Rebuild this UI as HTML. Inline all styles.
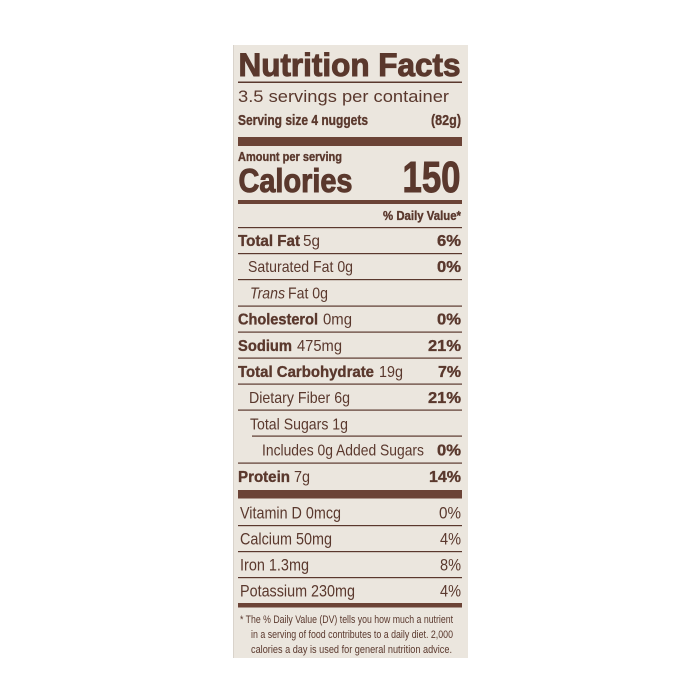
<!DOCTYPE html>
<html><head><meta charset="utf-8"><style>
html,body{margin:0;padding:0;background:#fff;}
svg{display:block;}
text{font-family:"Liberation Sans",sans-serif;fill:#5a382d;}
.b{font-weight:bold;stroke:#5a382d;stroke-width:0.35;}
.h{font-weight:bold;stroke:#5a382d;stroke-width:1;}
</style></head><body>
<svg width="700" height="700" viewBox="0 0 700 700" xmlns="http://www.w3.org/2000/svg">
<rect x="0" y="0" width="700" height="700" fill="#ffffff"/>
<rect x="233" y="45" width="235" height="613" fill="#ebe6de"/>
<line x1="233.5" y1="45" x2="233.5" y2="658" stroke="#d9d3cb" stroke-width="1"/>

<text class="h" x="238.5" y="76" font-size="32" textLength="222" lengthAdjust="spacingAndGlyphs">Nutrition Facts</text>
<rect x="238" y="81.5" width="224" height="1.5" fill="#5a382d"/>
<text x="238" y="102" font-size="17" textLength="211" lengthAdjust="spacingAndGlyphs">3.5 servings per container</text>
<text class="b" x="238" y="125" font-size="15" textLength="130" lengthAdjust="spacingAndGlyphs">Serving size 4 nuggets</text>
<text class="b" x="431" y="125" font-size="15" textLength="30" lengthAdjust="spacingAndGlyphs">(82g)</text>
<rect x="238" y="137" width="224" height="9" fill="#6b4336"/>
<text class="b" x="238" y="161" font-size="12.5" textLength="104" lengthAdjust="spacingAndGlyphs">Amount per serving</text>
<text class="h" x="238.5" y="192" font-size="33" textLength="114" lengthAdjust="spacingAndGlyphs">Calories</text>
<text class="h" x="402.5" y="192" font-size="44" textLength="58" lengthAdjust="spacingAndGlyphs">150</text>
<rect x="238" y="200" width="224" height="4" fill="#6b4336"/>
<text class="b" x="383" y="220" font-size="12.5" textLength="78" lengthAdjust="spacingAndGlyphs">% Daily Value*</text>
<rect x="238" y="227" width="224" height="1.2" fill="#5a382d"/>

<!-- Total Fat -->
<text class="b" x="238" y="246" font-size="16" textLength="62" lengthAdjust="spacingAndGlyphs">Total Fat</text>
<text x="303" y="246" font-size="16" textLength="17" lengthAdjust="spacingAndGlyphs">5g</text>
<text class="b" x="437" y="246" font-size="16" textLength="24" lengthAdjust="spacingAndGlyphs">6%</text>
<rect x="238" y="253" width="224" height="1.2" fill="#5a382d"/>
<!-- Saturated -->
<text x="248" y="272.2" font-size="16" textLength="105" lengthAdjust="spacingAndGlyphs">Saturated Fat 0g</text>
<text class="b" x="437" y="272.2" font-size="16" textLength="24" lengthAdjust="spacingAndGlyphs">0%</text>
<rect x="238" y="279" width="224" height="1.2" fill="#5a382d"/>
<!-- Trans -->
<text x="250" y="298.4" font-size="16" font-style="italic" textLength="35" lengthAdjust="spacingAndGlyphs">Trans</text>
<text x="288" y="298.4" font-size="16" textLength="40" lengthAdjust="spacingAndGlyphs">Fat 0g</text>
<rect x="238" y="305.5" width="224" height="1.2" fill="#5a382d"/>
<!-- Cholesterol -->
<text class="b" x="238" y="324.6" font-size="16" textLength="80" lengthAdjust="spacingAndGlyphs">Cholesterol</text>
<text x="323" y="324.6" font-size="16" textLength="29" lengthAdjust="spacingAndGlyphs">0mg</text>
<text class="b" x="437" y="324.6" font-size="16" textLength="24" lengthAdjust="spacingAndGlyphs">0%</text>
<rect x="238" y="331.5" width="224" height="1.2" fill="#5a382d"/>
<!-- Sodium -->
<text class="b" x="238" y="350.8" font-size="16" textLength="54" lengthAdjust="spacingAndGlyphs">Sodium</text>
<text x="297" y="350.8" font-size="16" textLength="45" lengthAdjust="spacingAndGlyphs">475mg</text>
<text class="b" x="428" y="350.8" font-size="16" textLength="33" lengthAdjust="spacingAndGlyphs">21%</text>
<rect x="238" y="357.5" width="224" height="1.2" fill="#5a382d"/>
<!-- Total Carb -->
<text class="b" x="238" y="377" font-size="16" textLength="136" lengthAdjust="spacingAndGlyphs">Total Carbohydrate</text>
<text x="379" y="377" font-size="16" textLength="24" lengthAdjust="spacingAndGlyphs">19g</text>
<text class="b" x="438" y="377" font-size="16" textLength="23" lengthAdjust="spacingAndGlyphs">7%</text>
<rect x="238" y="383.5" width="224" height="1.2" fill="#5a382d"/>
<!-- Dietary Fiber -->
<text x="249" y="403.2" font-size="16" textLength="101" lengthAdjust="spacingAndGlyphs">Dietary Fiber 6g</text>
<text class="b" x="428" y="403.2" font-size="16" textLength="33" lengthAdjust="spacingAndGlyphs">21%</text>
<rect x="238" y="409.5" width="224" height="1.2" fill="#5a382d"/>
<!-- Total Sugars -->
<text x="250" y="429.4" font-size="16" textLength="98" lengthAdjust="spacingAndGlyphs">Total Sugars 1g</text>
<rect x="252" y="435.5" width="210" height="1.2" fill="#5a382d"/>
<!-- Includes -->
<text x="262" y="455.6" font-size="16" textLength="162" lengthAdjust="spacingAndGlyphs">Includes 0g Added Sugars</text>
<text class="b" x="437" y="455.6" font-size="16" textLength="24" lengthAdjust="spacingAndGlyphs">0%</text>
<rect x="238" y="462.5" width="224" height="1.2" fill="#5a382d"/>
<!-- Protein -->
<text class="b" x="238" y="481.8" font-size="16" textLength="52" lengthAdjust="spacingAndGlyphs">Protein</text>
<text x="294" y="481.8" font-size="16" textLength="16" lengthAdjust="spacingAndGlyphs">7g</text>
<text class="b" x="429" y="481.8" font-size="16" textLength="32" lengthAdjust="spacingAndGlyphs">14%</text>
<rect x="238" y="490" width="224" height="8.5" fill="#6b4336"/>

<!-- Vitamins -->
<text x="240" y="518.5" font-size="17" textLength="101" lengthAdjust="spacingAndGlyphs">Vitamin D 0mcg</text>
<text x="439" y="518.5" font-size="17" textLength="22" lengthAdjust="spacingAndGlyphs">0%</text>
<rect x="238" y="525" width="224" height="1.2" fill="#5a382d"/>
<text x="240" y="544.5" font-size="17" textLength="92" lengthAdjust="spacingAndGlyphs">Calcium 50mg</text>
<text x="440" y="544.5" font-size="17" textLength="21" lengthAdjust="spacingAndGlyphs">4%</text>
<rect x="238" y="551" width="224" height="1.2" fill="#5a382d"/>
<text x="240" y="570.5" font-size="17" textLength="69" lengthAdjust="spacingAndGlyphs">Iron 1.3mg</text>
<text x="440" y="570.5" font-size="17" textLength="21" lengthAdjust="spacingAndGlyphs">8%</text>
<rect x="238" y="577" width="224" height="1.2" fill="#5a382d"/>
<text x="240" y="596.5" font-size="17" textLength="115" lengthAdjust="spacingAndGlyphs">Potassium 230mg</text>
<text x="440" y="596.5" font-size="17" textLength="21" lengthAdjust="spacingAndGlyphs">4%</text>
<rect x="238" y="603" width="224" height="4.5" fill="#6b4336"/>

<!-- Footnote -->
<text x="240" y="623" font-size="11" textLength="213" lengthAdjust="spacingAndGlyphs">* The % Daily Value (DV) tells you how much a nutrient</text>
<text x="251" y="638" font-size="11" textLength="202" lengthAdjust="spacingAndGlyphs">in a serving of food contributes to a daily diet. 2,000</text>
<text x="251" y="653" font-size="11" textLength="201" lengthAdjust="spacingAndGlyphs">calories a day is used for general nutrition advice.</text>
</svg>
</body></html>
